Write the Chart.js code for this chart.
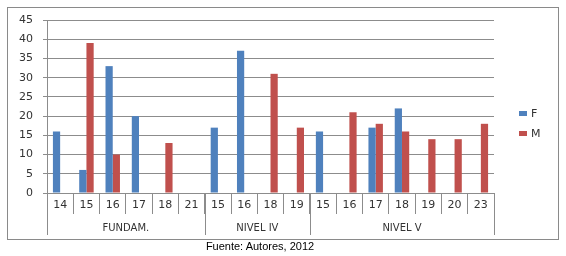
<!DOCTYPE html>
<html>
<head>
<meta charset="utf-8">
<script src="https://cdn.jsdelivr.net/npm/chart.js@4"></script>
<style>
  body { margin: 0; background: #fff; }
  #wrap { position: relative; width: 566px; height: 256px; }
  #caption {
    position: absolute; left: 0; top: 240px; width: 520px; text-align: center;
    font: 11px "Liberation Sans", Arial, sans-serif; color: #000;
  }
</style>
</head>
<body>
<div id="wrap">
  <canvas id="chart" width="566" height="256"></canvas>
  <div id="caption">Fuente: Autores, 2012</div>
</div>
<script>
// DATA
const groups = ["FUNDAM.", "NIVEL IV", "NIVEL V"];
const groupSizes = [6, 4, 7];
const ages = ["14", "15", "16", "17", "18", "21", "15", "16", "18", "19", "15", "16", "17", "18", "19", "20", "23"];
const seriesF = [16, 6, 33, 20, 0, 0, 17, 37, 0, 0, 16, 0, 17, 22, 0, 0, 0];
const seriesM = [0, 39, 10, 0, 13, 0, 0, 0, 31, 17, 0, 21, 18, 16, 14, 14, 18];
const yTicks = [0, 5, 10, 15, 20, 25, 30, 35, 40, 45];

const textColor = "#333";
const lineColor = "#8c8c8c";

// frame, group labels and legend
const extras = {
  id: "extras",
  afterDraw(chart) {
    let ctx = chart.ctx;
    let x = chart.scales.x;
    let area = chart.chartArea;
    let step = x.getPixelForValue(1) - x.getPixelForValue(0);
    ctx.save();

    // outer frame
    ctx.strokeStyle = "#8a8a8a";
    ctx.lineWidth = 1;
    ctx.strokeRect(7.5, 7.5, 551, 232);

    // group separators + labels
    ctx.strokeStyle = lineColor;
    ctx.fillStyle = textColor;
    ctx.font = "10px 'DejaVu Sans'";
    ctx.textAlign = "center";
    ctx.textBaseline = "middle";
    let start = 0;
    groupSizes.forEach((n, i) => {
      let left = x.getPixelForValue(start) - step / 2;
      let right = x.getPixelForValue(start + n - 1) + step / 2;
      [left, right].forEach(px => {
        ctx.beginPath();
        ctx.moveTo(Math.round(px) + 0.5, area.bottom);
        ctx.lineTo(Math.round(px) + 0.5, 235);
        ctx.stroke();
      });
      ctx.fillText(groups[i], (left + right) / 2, 228);
      start += n;
    });

    // legend
    ctx.font = "11px 'DejaVu Sans'";
    ctx.textAlign = "left";
    chart.data.datasets.forEach((ds, i) => {
      let ly = 114 + i * 20;
      ctx.fillStyle = ds.backgroundColor;
      ctx.fillRect(519, ly - 3, 8, 5);
      ctx.fillStyle = textColor;
      ctx.fillText(ds.label, 531, ly);
    });
    ctx.restore();
  }
};

new Chart(document.getElementById("chart"), {
  type: "bar",
  data: {
    labels: ages,
    datasets: [
      { label: "F", data: seriesF, backgroundColor: "#4f81bd" },
      { label: "M", data: seriesM, backgroundColor: "#c0504d" }
    ]
  },
  options: {
    responsive: false,
    animation: false,
    layout: { padding: { left: 7, right: 72, top: 20, bottom: 18 } },
    datasets: { bar: { categoryPercentage: 0.55, barPercentage: 1 } },
    plugins: { legend: { display: false }, tooltip: { enabled: false } },
    scales: {
      x: {
        afterFit: s => { s.height = 45; },
        border: { color: lineColor },
        grid: { drawOnChartArea: false, color: lineColor, tickLength: 21 },
        ticks: { color: textColor, font: { family: "DejaVu Sans", size: 11 }, padding: -15, maxRotation: 0, autoSkip: false }
      },
      y: {
        min: 0,
        max: 45,
        afterFit: s => { s.width = 40; },
        afterBuildTicks: s => { s.ticks = yTicks.map(v => ({ value: v })); },
        border: { color: lineColor },
        grid: { color: lineColor, tickLength: 4 },
        ticks: { color: textColor, font: { family: "DejaVu Sans", size: 11 }, padding: 10 }
      }
    }
  },
  plugins: [extras]
});
</script>
</body>
</html>
